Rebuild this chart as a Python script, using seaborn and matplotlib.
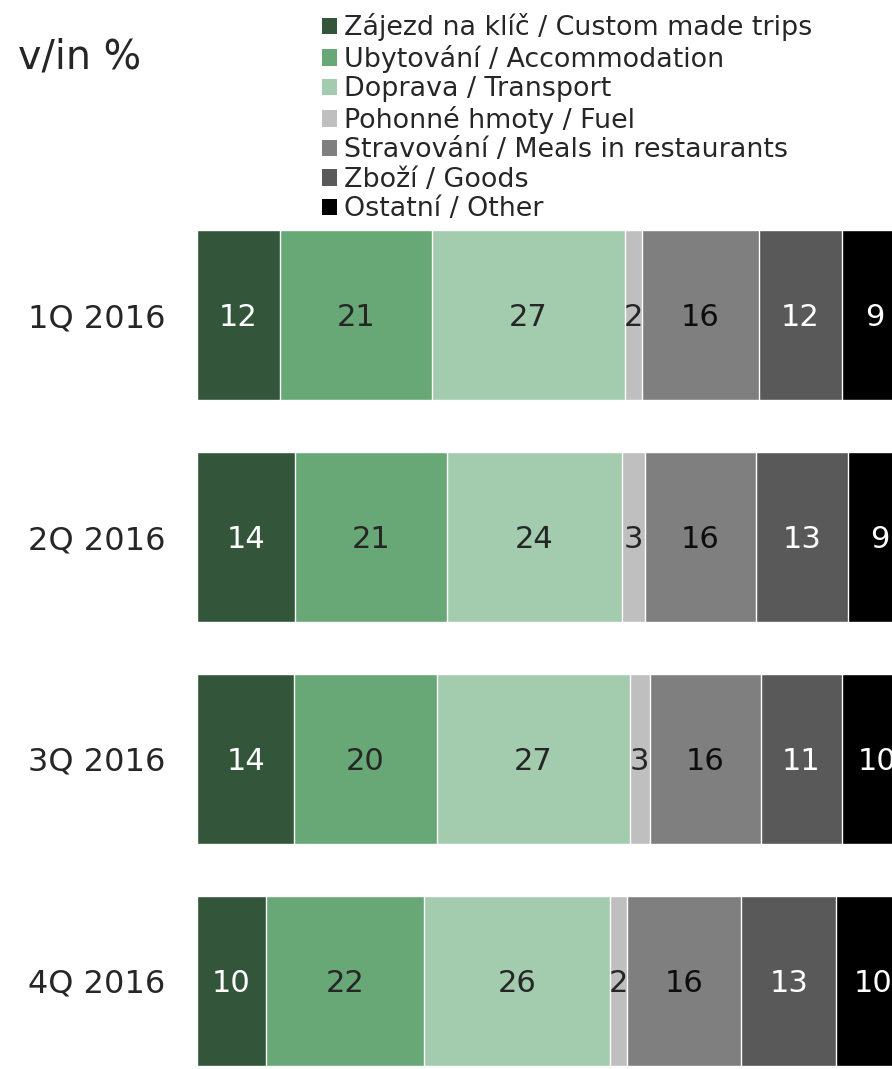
import numpy as np
import pandas as pd
import seaborn as sns
import matplotlib.pyplot as plt
from matplotlib.patches import Patch

# data (segment widths estimated, labels are the rounded values)
quarters = ["1Q 2016", "2Q 2016", "3Q 2016", "4Q 2016"]
categories = [
    "Zájezd na klíč / Custom made trips",
    "Ubytování / Accommodation",
    "Doprava / Transport",
    "Pohonné hmoty / Fuel",
    "Stravování / Meals in restaurants",
    "Zboží / Goods",
    "Ostatní / Other",
]
custom_trips = [11.6, 13.7, 13.6, 9.6]
accommodation = [21.3, 21.3, 19.9, 22.2]
transport = [26.9, 24.4, 27.0, 25.9]
fuel = [2.4, 3.2, 2.8, 2.4]
meals = [16.4, 15.6, 15.6, 16.0]
goods = [11.6, 12.8, 11.3, 13.3]
other = [9.2, 9.0, 9.8, 10.4]

colors = ["#33563B", "#68A776", "#A3CBAE", "#BFBFBF", "#7F7F7F", "#595959", "#000000"]
label_colors = ["white", "#262626", "#262626", "#262626", "#0D0D0D", "white", "white"]

series = [custom_trips, accommodation, transport, fuel, meals, goods, other]
df = pd.DataFrame({c: s for c, s in zip(categories, series)}, index=quarters)
cum = df.cumsum(axis=1)

sns.set_style("white")
plt.rcParams["font.family"] = ["DejaVu Sans"]

fig = plt.figure(figsize=(8.92, 10.69), dpi=100)
ax = fig.add_axes([197 / 892, 3 / 1069, 695 / 892, 836 / 1069])

# stacked bars: draw cumulative totals from the widest to the narrowest
for i in range(len(categories) - 1, -1, -1):
    sns.barplot(x=cum[categories[i]].values, y=quarters, orient="h",
                color=colors[i], width=0.766, edgecolor="white",
                linewidth=1, saturation=1, ax=ax)

for j, q in enumerate(quarters):
    for i, c in enumerate(categories):
        v = df.loc[q, c]
        ax.text(cum.loc[q, c] - v / 2, j + 0.01, f"{v:.0f}", ha="center", va="center",
                fontsize=22, color=label_colors[i])

ax.set_xlim(0, 97.2)
ax.set_ylim(3.383, -0.383)
ax.set_xlabel("")
ax.set_ylabel("")
ax.set_xticks([])
ax.tick_params(axis="y", length=0, pad=23, labelsize=23, labelcolor="#262626")
sns.despine(ax=ax, left=True, bottom=True)

fig.text(18 / 892, 1 - 57 / 1069, "v/in %", fontsize=28.5, color="#262626",
         ha="left", va="center")

handles = [Patch(facecolor=c, edgecolor="none") for c in colors]
fig.legend(handles, categories, loc="upper left",
           bbox_to_anchor=(309 / 892, 1.0), frameon=False,
           fontsize=19.4, handlelength=0.55, handleheight=0.55,
           handletextpad=0.25, labelspacing=0.13, borderpad=0,
           labelcolor="#262626")

fig.savefig("out.png", dpi=100)
